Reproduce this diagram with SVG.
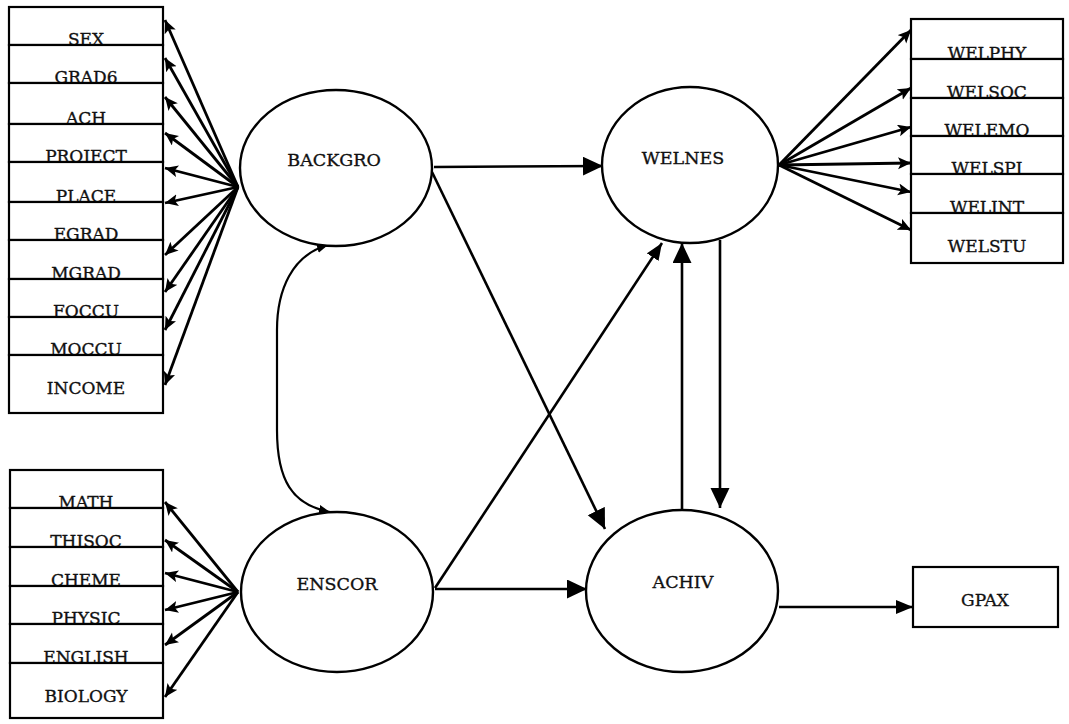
<svg xmlns="http://www.w3.org/2000/svg" width="1069" height="724" viewBox="0 0 1069 724">
<style>
  .box { fill: #fff; stroke: #000; stroke-width: 2.2; }
  .ell { fill: #fff; stroke: #000; stroke-width: 2.4; }
  .lbl { font-family: "DejaVu Serif", "Liberation Serif", serif; font-size: 17px; fill: #111; stroke: #111; stroke-width: 0.35; text-anchor: middle; }
  .big { font-family: "DejaVu Serif", "Liberation Serif", serif; font-size: 17.5px; fill: #111; stroke: #111; stroke-width: 0.35; text-anchor: middle; }
  .fan { stroke: #000; stroke-width: 2.8; fill: none; marker-end: url(#ah); }
  .path { stroke: #000; stroke-width: 2.6; fill: none; marker-end: url(#big); }
</style>
<defs>
  <marker id="ah" markerUnits="userSpaceOnUse" markerWidth="16" markerHeight="14" refX="13" refY="6" orient="auto">
    <path d="M0,0 L13,6 L0,12 L3,6 Z" fill="#000"/>
  </marker>
  <marker id="big" markerUnits="userSpaceOnUse" markerWidth="22" markerHeight="22" refX="20" refY="9.5" orient="auto">
    <path d="M0,0 L20,9.5 L0,19 Z" fill="#000"/>
  </marker>
  <marker id="mid" markerUnits="userSpaceOnUse" markerWidth="20" markerHeight="16" refX="17" refY="7" orient="auto">
    <path d="M0,0 L17,7 L0,14 Z" fill="#000"/>
  </marker>
  <marker id="sm" markerUnits="userSpaceOnUse" markerWidth="14" markerHeight="12" refX="11" refY="5" orient="auto-start-reverse">
    <path d="M0,0 L11,5 L0,10 Z" fill="#000"/>
  </marker>
</defs>
<rect width="1069" height="724" fill="#fff"/>

<g id="connectors">
  <!-- BACKGRO indicators -->
  <line class="fan" x1="238" y1="187" x2="165" y2="20"/>
  <line class="fan" x1="238" y1="187" x2="165" y2="58"/>
  <line class="fan" x1="238" y1="187" x2="165" y2="97"/>
  <line class="fan" x1="238" y1="187" x2="165" y2="133"/>
  <line class="fan" x1="238" y1="187" x2="165" y2="168"/>
  <line class="fan" x1="238" y1="187" x2="165" y2="203"/>
  <line class="fan" x1="238" y1="187" x2="165" y2="255"/>
  <line class="fan" x1="238" y1="187" x2="165" y2="292"/>
  <line class="fan" x1="238" y1="187" x2="165" y2="330"/>
  <line class="fan" x1="238" y1="187" x2="165" y2="385"/>
  <!-- ENSCOR indicators -->
  <line class="fan" x1="238" y1="592" x2="165" y2="502"/>
  <line class="fan" x1="238" y1="592" x2="165" y2="540"/>
  <line class="fan" x1="238" y1="592" x2="165" y2="573"/>
  <line class="fan" x1="238" y1="592" x2="165" y2="610"/>
  <line class="fan" x1="238" y1="592" x2="165" y2="645"/>
  <line class="fan" x1="238" y1="592" x2="165" y2="697"/>
  <!-- WELNES indicators -->
  <line class="fan" x1="779" y1="165" x2="911" y2="30"/>
  <line class="fan" x1="779" y1="165" x2="911" y2="88"/>
  <line class="fan" x1="779" y1="165" x2="911" y2="127"/>
  <line class="fan" x1="779" y1="165" x2="911" y2="163"/>
  <line class="fan" x1="779" y1="165" x2="911" y2="192"/>
  <line class="fan" x1="779" y1="165" x2="911" y2="230"/>
  <!-- structural paths -->
  <line class="path" x1="434" y1="167" x2="603" y2="166"/>
  <line class="path" x1="432" y1="172" x2="605" y2="529"/>
  <line class="path" x1="435" y1="589" x2="587" y2="589"/>
  <line class="path" style="marker-end:url(#mid)" x1="435" y1="588" x2="662" y2="243"/>
  <line class="path" x1="682" y1="510" x2="682" y2="243"/>
  <line class="path" x1="720" y1="240" x2="720" y2="508"/>
  <line class="path" style="marker-end:url(#mid)" x1="779" y1="607" x2="913" y2="607"/>
  <!-- correlation -->
  <path d="M328,245 C292,255 277,290 277,330 L277,430 C277,480 292,505 330,512" stroke="#000" stroke-width="2.2" fill="none" marker-start="url(#sm)" marker-end="url(#sm)"/>
</g>

<g id="node-backgro"><ellipse class="ell" cx="336" cy="168" rx="96" ry="78"/><text class="big" x="334" y="166">BACKGRO</text></g>
<g id="node-welnes"><ellipse class="ell" cx="690" cy="165" rx="88" ry="78"/><text class="big" x="683" y="164">WELNES</text></g>
<g id="node-enscor"><ellipse class="ell" cx="337" cy="592" rx="96" ry="80"/><text class="big" x="337" y="590">ENSCOR</text></g>
<g id="node-achiv"><ellipse class="ell" cx="682" cy="591" rx="96" ry="81"/><text class="big" x="683" y="588">ACHIV</text></g>
<g id="node-gpax"><rect class="box" x="913" y="567" width="145" height="60"/><text class="lbl" x="985" y="606">GPAX</text></g>

<g id="node-sex"><rect class="box" x="9" y="7" width="154" height="38"/><text class="lbl" x="86" y="45">SEX</text></g>
<g id="node-grad6"><rect class="box" x="9" y="45" width="154" height="38"/><text class="lbl" x="86" y="83">GRAD6</text></g>
<g id="node-ach"><rect class="box" x="9" y="83" width="154" height="41"/><text class="lbl" x="86" y="124">ACH</text></g>
<g id="node-project"><rect class="box" x="9" y="124" width="154" height="38"/><text class="lbl" x="86" y="162">PROJECT</text></g>
<g id="node-place"><rect class="box" x="9" y="162" width="154" height="40"/><text class="lbl" x="86" y="202">PLACE</text></g>
<g id="node-egrad"><rect class="box" x="9" y="202" width="154" height="38"/><text class="lbl" x="86" y="240">EGRAD</text></g>
<g id="node-mgrad"><rect class="box" x="9" y="240" width="154" height="39"/><text class="lbl" x="86" y="279">MGRAD</text></g>
<g id="node-foccu"><rect class="box" x="9" y="279" width="154" height="38"/><text class="lbl" x="86" y="317">FOCCU</text></g>
<g id="node-moccu"><rect class="box" x="9" y="317" width="154" height="38"/><text class="lbl" x="86" y="355">MOCCU</text></g>
<g id="node-income"><rect class="box" x="9" y="355" width="154" height="58"/><text class="lbl" x="86" y="394">INCOME</text></g>

<g id="node-math"><rect class="box" x="10" y="470" width="153" height="38"/><text class="lbl" x="86" y="508">MATH</text></g>
<g id="node-thisoc"><rect class="box" x="10" y="508" width="153" height="39"/><text class="lbl" x="86" y="547">THISOC</text></g>
<g id="node-cheme"><rect class="box" x="10" y="547" width="153" height="39"/><text class="lbl" x="86" y="586">CHEME</text></g>
<g id="node-physic"><rect class="box" x="10" y="586" width="153" height="38"/><text class="lbl" x="86" y="624">PHYSIC</text></g>
<g id="node-english"><rect class="box" x="10" y="624" width="153" height="39"/><text class="lbl" x="86" y="663">ENGLISH</text></g>
<g id="node-biology"><rect class="box" x="10" y="663" width="153" height="55"/><text class="lbl" x="86" y="702">BIOLOGY</text></g>

<g id="node-welphy"><rect class="box" x="911" y="19" width="152" height="40"/><text class="lbl" x="987" y="59">WELPHY</text></g>
<g id="node-welsoc"><rect class="box" x="911" y="59" width="152" height="39"/><text class="lbl" x="987" y="98">WELSOC</text></g>
<g id="node-welemo"><rect class="box" x="911" y="98" width="152" height="38"/><text class="lbl" x="987" y="136">WELEMO</text></g>
<g id="node-welspi"><rect class="box" x="911" y="136" width="152" height="38"/><text class="lbl" x="987" y="174">WELSPI</text></g>
<g id="node-welint"><rect class="box" x="911" y="174" width="152" height="39"/><text class="lbl" x="987" y="213">WELINT</text></g>
<g id="node-welstu"><rect class="box" x="911" y="213" width="152" height="50"/><text class="lbl" x="987" y="252">WELSTU</text></g>
</svg>
